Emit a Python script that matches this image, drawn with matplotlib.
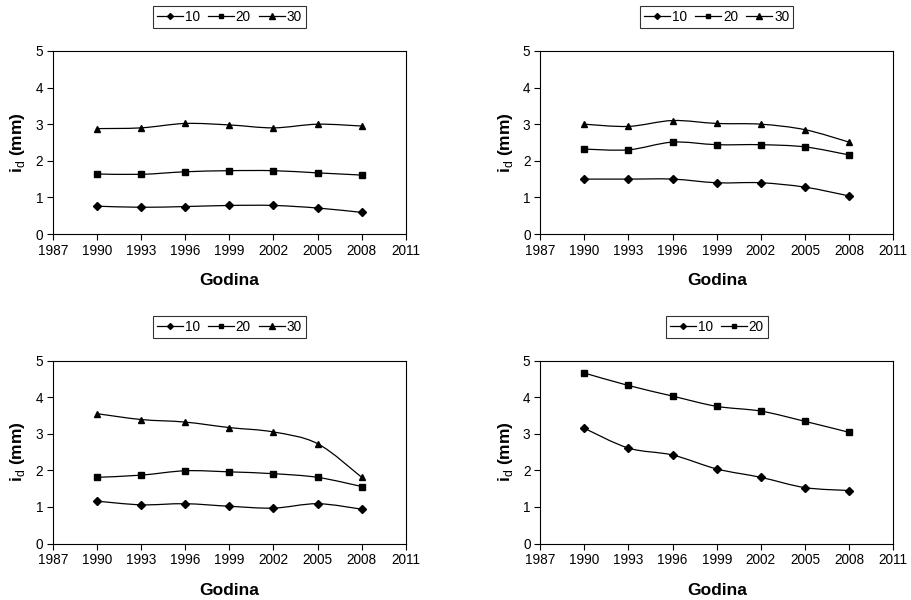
import numpy as np
import matplotlib.pyplot as plt
from matplotlib.path import Path
from matplotlib.patches import PathPatch
from matplotlib.lines import Line2D

plt.rcParams['font.family'] = ['Liberation Sans', 'DejaVu Sans']
plt.rcParams['mathtext.fontset'] = 'custom'
plt.rcParams['mathtext.rm'] = 'Liberation Sans'
plt.rcParams['mathtext.bf'] = 'Liberation Sans:bold'

years = [1990, 1993, 1996, 1999, 2002, 2005, 2008]
labels = ['10', '20', '30']

# panel 1 (top left)
p1_10 = [0.76, 0.73, 0.75, 0.78, 0.78, 0.71, 0.59]
p1_20 = [1.64, 1.63, 1.70, 1.73, 1.73, 1.67, 1.61]
p1_30 = [2.88, 2.90, 3.02, 2.98, 2.90, 3.00, 2.95]
# panel 2 (top right)
p2_10 = [1.50, 1.50, 1.50, 1.40, 1.40, 1.28, 1.04]
p2_20 = [2.32, 2.30, 2.51, 2.44, 2.44, 2.38, 2.16]
p2_30 = [3.00, 2.94, 3.10, 3.02, 3.00, 2.85, 2.51]
# panel 3 (bottom left)
p3_10 = [1.16, 1.06, 1.09, 1.02, 0.97, 1.09, 0.94]
p3_20 = [1.81, 1.87, 1.99, 1.96, 1.91, 1.81, 1.56]
p3_30 = [3.55, 3.39, 3.32, 3.17, 3.05, 2.73, 1.81]
# panel 4 (bottom right)
p4_10 = [3.15, 2.61, 2.42, 2.04, 1.81, 1.53, 1.45]
p4_20 = [4.66, 4.32, 4.03, 3.75, 3.62, 3.34, 3.04]

markers = ['D', 's', '^']
msizes = [3.8, 4.2, 5.0]
leg_msizes = [3.0, 3.2, 4.0]


def smooth_line(ax, x, y):
    # excel-like smoothed line: catmull-rom converted to bezier segments
    x = np.asarray(x, float)
    y = np.asarray(y, float)
    px = np.concatenate([[x[0]], x, [x[-1]]])
    py = np.concatenate([[y[0]], y, [y[-1]]])
    verts = [(x[0], y[0])]
    codes = [Path.MOVETO]
    for i in range(1, len(x)):
        c1 = (px[i] + (px[i + 1] - px[i - 1]) / 6, py[i] + (py[i + 1] - py[i - 1]) / 6)
        c2 = (px[i + 1] - (px[i + 2] - px[i]) / 6, py[i + 1] - (py[i + 2] - py[i]) / 6)
        verts += [c1, c2, (x[i], y[i])]
        codes += [Path.CURVE4] * 3
    ax.add_patch(PathPatch(Path(verts, codes), fill=False, edgecolor='black', lw=0.9))


def panel(ax, series):
    handles = []
    for k, s in enumerate(series):
        smooth_line(ax, years, s)
        ax.plot(years, s, ls='none', marker=markers[k], ms=msizes[k], color='black')
        handles.append(Line2D([], [], color='black', lw=0.9, marker=markers[k], ms=leg_msizes[k]))
    ax.set_xlim(1987, 2011)
    ax.set_ylim(0, 5)
    ax.set_xticks(np.arange(1987, 2012, 3))
    ax.set_yticks(range(6))
    ax.tick_params(direction='out', length=4, width=0.8, labelsize=9.8, pad=3)
    for sp in ax.spines.values():
        sp.set_linewidth(0.8)
    ax.set_xlabel('Godina', fontsize=12.5, fontweight='bold', labelpad=11)
    ax.set_ylabel(r'$\mathbf{i}_{\mathrm{d}}$ (mm)', fontsize=12.5, fontweight='bold', labelpad=6)
    leg = ax.legend(handles, labels[:len(series)], loc='lower center', bbox_to_anchor=(0.5, 1.125),
                    ncol=len(series), frameon=True, fancybox=False, fontsize=9.8,
                    handlelength=1.9, handletextpad=0.15, columnspacing=0.6,
                    borderpad=0.3, borderaxespad=0)
    leg.get_frame().set_edgecolor('black')
    leg.get_frame().set_linewidth(0.8)


fig = plt.figure(figsize=(9.11, 6.0), dpi=100)
ax1 = fig.add_axes([0.058, 0.61, 0.3875, 0.305])
ax2 = fig.add_axes([0.593, 0.61, 0.3875, 0.305])
ax3 = fig.add_axes([0.058, 0.094, 0.3875, 0.305])
ax4 = fig.add_axes([0.593, 0.094, 0.3875, 0.305])

panel(ax1, [p1_10, p1_20, p1_30])
panel(ax2, [p2_10, p2_20, p2_30])
panel(ax3, [p3_10, p3_20, p3_30])
panel(ax4, [p4_10, p4_20])

fig.savefig('out.png', dpi=100)
